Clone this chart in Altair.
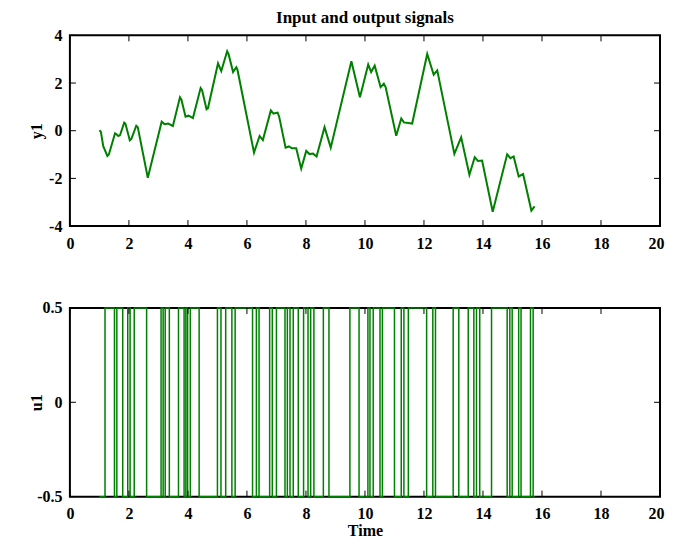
import altair as alt
import pandas as pd

# ---- data ----
y1_t = [1.00, 1.05, 1.13, 1.27, 1.32, 1.53, 1.58, 1.64, 1.70, 1.84, 1.88, 2.03, 2.08,
        2.25, 2.30, 2.64, 3.11, 3.21, 3.33, 3.49, 3.73, 3.78, 3.92, 4.02, 4.17, 4.43,
        4.48, 4.63, 4.68, 5.02, 5.13, 5.33, 5.38, 5.53, 5.64, 5.68, 6.24, 6.43, 6.54,
        6.81, 6.90, 7.04, 7.09, 7.31, 7.42, 7.53, 7.67, 7.84, 8.01, 8.12, 8.24, 8.36,
        8.63, 8.84, 9.54, 9.83, 10.11, 10.21, 10.33, 10.53, 10.64, 10.70, 11.06, 11.23,
        11.32, 11.60, 12.11, 12.33, 12.45, 13.03, 13.26, 13.54, 13.72, 13.83, 13.97,
        14.33, 14.82, 14.93, 15.04, 15.21, 15.36, 15.64, 15.75]
y1_v = [0.02, -0.05, -0.65, -1.06, -1.00, -0.11, -0.15, -0.22, -0.18, 0.34, 0.30, -0.40,
        -0.35, 0.21, 0.15, -1.97, 0.38, 0.27, 0.30, 0.20, 1.40, 1.30, 0.59, 0.63, 0.53,
        1.79, 1.70, 0.90, 0.95, 2.83, 2.50, 3.33, 3.20, 2.46, 2.66, 2.55, -0.92, -0.22,
        -0.39, 0.85, 0.72, 0.76, 0.60, -0.71, -0.66, -0.74, -0.74, -1.59, -0.85, -0.98,
        -0.96, -1.08, 0.15, -0.71, 2.91, 1.40, 2.78, 2.46, 2.73, 1.83, 1.97, 1.83, -0.21,
        0.51, 0.35, 0.30, 3.22, 2.35, 2.53, -0.97, -0.28, -1.85, -1.11, -1.27, -1.25,
        -3.40, -0.99, -1.15, -1.08, -1.92, -1.82, -3.35, -3.17]

u1_switch = [1.19, 1.51, 1.59, 1.79, 1.96, 2.04, 2.18, 2.60, 3.09, 3.16, 3.23, 3.37,
             3.68, 3.87, 3.93, 3.99, 4.08, 4.38, 5.00, 5.12, 5.28, 5.49, 5.60, 6.19,
             6.32, 6.41, 6.77, 6.86, 7.00, 7.29, 7.37, 7.46, 7.57, 7.74, 7.92, 8.07,
             8.16, 8.27, 8.59, 8.78, 9.49, 9.80, 10.10, 10.17, 10.28, 10.51, 10.59,
             11.00, 11.23, 11.32, 11.47, 12.09, 12.30, 12.39, 12.99, 13.18, 13.50,
             13.69, 13.78, 13.89, 14.29, 14.82, 14.91, 14.99, 15.21, 15.29, 15.61, 15.70]
u1_start, u1_end = 1.00, 15.75
u1_low, u1_high = -0.5, 0.5

x_ticks = [0, 2, 4, 6, 8, 10, 12, 14, 16, 18, 20]
y1_ticks = [-4, -2, 0, 2, 4]
u1_ticks = [-0.5, 0, 0.5]

# ---- tables ----
df_y = pd.DataFrame({"t": y1_t, "y": y1_v})
u_t = [u1_start]
u_v = [u1_low]
level = u1_low
for s in u1_switch:
    level = u1_high if level == u1_low else u1_low
    u_t.append(s)
    u_v.append(level)
u_t.append(u1_end)
u_v.append(level)
df_u = pd.DataFrame({"t": u_t, "y": u_v})
df_xt = pd.DataFrame({"t": x_ticks})
df_y1t = pd.DataFrame({"y": y1_ticks})
df_u1t = pd.DataFrame({"y": u1_ticks})

W = 591
H1 = 191
H2 = 189
TL = 6
GREEN = "#008000"
FONT = "Liberation Serif"

xscale = alt.Scale(domain=[0, 20], nice=False, zero=False)


def x_axis(title=None):
    kw = dict(values=x_ticks, format="d", ticks=False, domain=False, grid=False,
              labelPadding=9, labelFlush=True, labelFlushOffset=4, labelOverlap=False)
    if title:
        kw.update(title=title, titleX=W / 2, titleY=34, titleAlign="center",
                  titleBaseline="middle", titleAngle=0)
    else:
        kw.update(title=None)
    return alt.Axis(**kw)


def y_axis(vals, title, h):
    return alt.Axis(values=vals, labelExpr="toString(datum.value)", ticks=False,
                    domain=False, grid=False,
                    labelPadding=8, labelFlush=False, labelOverlap=False,
                    title=title, titleX=-33, titleY=h / 2, titleAngle=-90,
                    titleAlign="center", titleBaseline="middle")


def panel(line, yvals_df, yscale, h, xax, yax):
    xt_top = alt.Chart(df_xt).mark_rule(color="black", strokeWidth=1).encode(
        x=alt.X("t:Q", scale=xscale, axis=xax), y=alt.value(0), y2=alt.value(TL))
    xt_bot = alt.Chart(df_xt).mark_rule(color="black", strokeWidth=1).encode(
        x=alt.X("t:Q", scale=xscale, axis=xax), y=alt.value(h), y2=alt.value(h - TL))
    yt_l = alt.Chart(yvals_df).mark_rule(color="black", strokeWidth=1).encode(
        y=alt.Y("y:Q", scale=yscale, axis=yax), x=alt.value(0), x2=alt.value(TL))
    yt_r = alt.Chart(yvals_df).mark_rule(color="black", strokeWidth=1).encode(
        y=alt.Y("y:Q", scale=yscale, axis=yax), x=alt.value(W), x2=alt.value(W - TL))
    return alt.layer(line, xt_top, xt_bot, yt_l, yt_r)


ys1 = alt.Scale(domain=[-4, 4], nice=False, zero=False)
ys2 = alt.Scale(domain=[-0.5, 0.5], nice=False, zero=False)

xa1 = x_axis()
ya1 = y_axis(y1_ticks, "y1", H1)
line1 = alt.Chart(df_y).mark_line(color=GREEN, strokeWidth=2).encode(
    x=alt.X("t:Q", scale=xscale, axis=xa1),
    y=alt.Y("y:Q", scale=ys1, axis=ya1),
)
top = panel(line1, df_y1t, ys1, H1, xa1, ya1).properties(
    width=W, height=H1,
    title=alt.TitleParams("Input and output signals", font=FONT, fontSize=17,
                          fontWeight="bold", anchor="middle", offset=0, color="black"),
)

xa2 = x_axis("Time")
ya2 = y_axis(u1_ticks, "u1", H2)
line2 = alt.Chart(df_u).mark_line(color=GREEN, strokeWidth=1.5, interpolate="step-after").encode(
    x=alt.X("t:Q", scale=xscale, axis=xa2),
    y=alt.Y("y:Q", scale=ys2, axis=ya2),
)
bottom = panel(line2, df_u1t, ys2, H2, xa2, ya2).properties(width=W, height=H2)

chart = alt.vconcat(top, bottom, spacing=82, bounds="flush").properties(
    padding={"left": 20, "top": 0, "right": 0, "bottom": 0}
).configure_view(stroke="black", strokeWidth=2).configure_axis(
    labelFont=FONT, labelFontSize=16, labelFontWeight="bold", labelColor="black",
    titleFont=FONT, titleFontSize=16, titleFontWeight="bold", titleColor="black",
)

chart.save("out.html", embed_options={"renderer": "svg", "actions": False})
